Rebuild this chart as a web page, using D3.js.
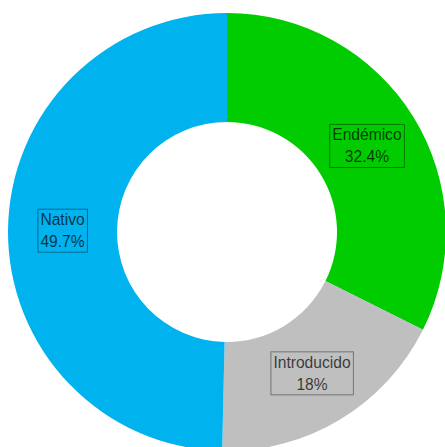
<!DOCTYPE html>
<html>
<head>
<meta charset="utf-8">
<script src="https://cdn.jsdelivr.net/npm/d3@7"></script>
<style>
  body { margin: 0; background: #fff; }
  svg { display: block; }
</style>
</head>
<body>
<div id="canvas"></div>
<script>
const categories = ["Endémico", "Introducido", "Nativo"];
const values = [32.4, 18, 49.7];
const labels = ["32.4%", "18%", "49.7%"];
const colors = ["#00CC00", "#BFBFBF", "#00B2EE"];

const width = 445;
const height = 447;
const cx = 227, cy = 232;
const outerR = 219, innerR = 110;

const data = categories.map((c, i) => ({ name: c, value: values[i], label: labels[i], color: colors[i] }));

const svg = d3.select("#canvas").append("svg")
    .attr("width", width)
    .attr("height", height);

const g = svg.append("g").attr("transform", `translate(${cx},${cy})`);

const pie = d3.pie().value(d => d.value).sort(null);
const arc = d3.arc().innerRadius(innerR).outerRadius(outerR);

const arcs = pie(data);

g.selectAll("path.slice").data(arcs)
  .enter().append("path")
    .attr("class", "slice")
    .attr("d", arc)
    .style("fill", d => d.data.color);

// labels with thin box
const lab = g.selectAll("g.label").data(arcs)
  .enter().append("g")
    .attr("class", "label")
    .attr("transform", d => `translate(${arc.centroid(d)})`);

const txt = lab.append("text")
    .attr("text-anchor", "middle")
    .style("font-family", "Liberation Sans, Arial, sans-serif")
    .style("font-size", "15.6px")
    .style("fill", "#000")
    .style("fill-opacity", 0.72);

txt.append("tspan").attr("x", 0).attr("y", -5).text(d => d.data.name);
txt.append("tspan").attr("x", 0).attr("y", 17).text(d => d.data.label);

lab.each(function() {
  const bb = d3.select(this).select("text").node().getBBox();
  d3.select(this).insert("rect", "text")
    .attr("x", bb.x - 2.5)
    .attr("y", bb.y - 2)
    .attr("width", bb.width + 5)
    .attr("height", bb.height + 4)
    .style("fill", "none")
    .style("stroke", "#000")
    .style("stroke-opacity", 0.4)
    .style("stroke-width", 1);
});
</script>
</body>
</html>
